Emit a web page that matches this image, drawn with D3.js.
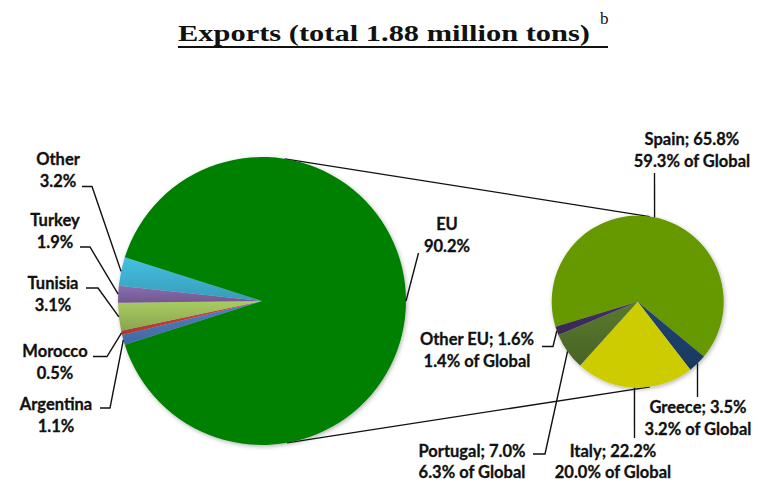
<!DOCTYPE html>
<html>
<head>
<meta charset="utf-8">
<script src="https://cdn.jsdelivr.net/npm/d3@7"></script>
<style>
  html, body { margin: 0; padding: 0; background: #fff; }
  svg { display: block; }
  .lbl { font-family: Lato, "Open Sans", sans-serif; font-weight: 700; fill: #111;
         stroke: #111; stroke-width: 0.3px; }
</style>
</head>
<body>
<svg id="chart" width="760" height="483"></svg>
<script>
// Export shares by origin (percent of global exports)
const mainLabels = ["Argentina", "Morocco", "Tunisia", "Turkey", "Other", "EU"];
const mainShares = [1.1, 0.5, 3.1, 1.9, 3.2, 90.2];
const mainColors = ["#4a76b8", "#c0403a", "#9bbb59", "#8064a2", "#3fb0d0", "#008000"];

// Breakdown of the EU share (percent of EU, percent of global)
const euLabels = ["Spain", "Greece", "Italy", "Portugal", "Other EU"];
const euShares = [65.8, 3.5, 22.2, 7.0, 1.6];
const euGlobal = [59.3, 3.2, 20.0, 6.3, 1.4];
const euColors = ["#669900", "#1c3f6a", "#cccc00", "#52702a", "#3f2d5e"];

const titleText = "Exports (total 1.88 million tons)";
const titleNote = "b";

const svg = d3.select("#chart");
const deg = Math.PI / 180;

// ---- defs: soft shadow + per-slice shading
const defs = svg.append("defs");
const shadow = defs.append("filter").attr("id", "pieShadow")
  .attr("x", "-10%").attr("y", "-10%").attr("width", "120%").attr("height", "120%");
shadow.append("feDropShadow").attr("dx", 1).attr("dy", 1.5)
  .attr("stdDeviation", 2.2).attr("flood-color", "#000").attr("flood-opacity", 0.3);

function shade(id, color, flat) {
  const g = defs.append("linearGradient").attr("id", id)
    .attr("x1", "0").attr("y1", "0").attr("x2", "0").attr("y2", "1");
  const c = d3.color(color);
  g.append("stop").attr("offset", "0%").attr("stop-color", flat ? color : c.brighter(0.25).formatHex());
  g.append("stop").attr("offset", "100%").attr("stop-color", flat ? color : c.darker(0.35).formatHex());
  return `url(#${id})`;
}

// ---- title
const title = svg.append("g");
title.append("text")
  .attr("x", 178).attr("y", 41)
  .attr("textLength", 412).attr("lengthAdjust", "spacingAndGlyphs")
  .style("font-family", "'Liberation Serif', 'DejaVu Serif', serif")
  .style("font-weight", "700").style("font-size", "24px").style("fill", "#111")
  .text(titleText);
title.append("text")
  .attr("x", 600).attr("y", 24)
  .style("font-family", "'Liberation Serif', serif")
  .style("font-weight", "400").style("font-size", "17px").style("fill", "#111")
  .text(titleNote);
title.append("line")
  .attr("x1", 178).attr("x2", 608).attr("y1", 47).attr("y2", 47)
  .attr("stroke", "#111").attr("stroke-width", 2);

// ---- pie geometry
const main = { cx: 262, cy: 301, r: 144 };
const sub  = { cx: 637.7, cy: 301.7, r: 86 };

const smallTotal = d3.sum(mainShares.slice(0, 5)) / d3.sum(mainShares) * 360;
const mainStart = (270 - smallTotal / 2) * deg;
const mainPie = d3.pie().sort(null).startAngle(mainStart).endAngle(mainStart + 2 * Math.PI);
const mainArcs = mainPie(mainShares);

const subStart = -107 * deg;
const subPie = d3.pie().sort(null).startAngle(subStart).endAngle(subStart + 2 * Math.PI);
const subArcs = subPie(euShares);

const polar = (c, a, r) => [c.cx + r * Math.sin(a), c.cy - r * Math.cos(a)];

// ---- connector lines between the two pies
const linkG = svg.append("g").attr("stroke", "#111").attr("stroke-width", 1.3).attr("fill", "none");
[[9.1, 8.0], [170.0, 171.8]].forEach(([a1, a2]) => {
  const p1 = polar(main, a1 * deg, main.r), p2 = polar(sub, a2 * deg, sub.r);
  linkG.append("line").attr("x1", p1[0]).attr("y1", p1[1]).attr("x2", p2[0]).attr("y2", p2[1]);
});

// ---- slices
const mainArc = d3.arc().innerRadius(0).outerRadius(main.r);
svg.append("g").attr("transform", `translate(${main.cx},${main.cy})`)
  .attr("filter", "url(#pieShadow)")
  .selectAll("path").data(mainArcs).join("path")
  .attr("d", mainArc)
  .attr("fill", (d, i) => shade("m" + i, mainColors[i], i === 5));

const subArc = d3.arc().innerRadius(0).outerRadius(sub.r);
svg.append("g").attr("transform", `translate(${sub.cx},${sub.cy})`)
  .attr("filter", "url(#pieShadow)")
  .selectAll("path").data(subArcs).join("path")
  .attr("d", subArc)
  .attr("fill", (d, i) => shade("s" + i, euColors[i], i === 0 || i === 2));

// ---- labels and leader lines
const fmt = d3.format(".1f");
const mainLayout = [
  { x: 56, y: 410, knee: [[100, 408], [110, 408]] },
  { x: 55, y: 357, knee: [[93, 356.5], [107, 356.5]] },
  { x: 53, y: 289, knee: [[86, 288], [98, 288]] },
  { x: 55, y: 226, knee: [[80, 247], [90, 247]] },
  { x: 58, y: 165, knee: [[82, 186.5], [92, 186.5]] },
  { x: 447, y: 230, knee: [[418.5, 253]] }
];
const subLayout = [
  { x: 692, y: 145, knee: [[654.5, 173]] },
  { x: 698, y: 413, knee: [[697.5, 397]] },
  { x: 613, y: 456.5, knee: [[634.5, 438]] },
  { x: 472, y: 456.5, knee: [[533, 454], [545, 454]] },
  { x: 477, y: 345, knee: [[542, 346.5], [553, 346.5]] }
];

const leaderG = svg.append("g").attr("stroke", "#111").attr("stroke-width", 1.4).attr("fill", "none");
const textG = svg.append("g");
const lh = 21.7;

function drawLabel(lines, lay, anchorPt) {
  const t = textG.append("text").attr("class", "lbl")
    .attr("text-anchor", "middle").style("font-size", "16.5px");
  lines.forEach((s, k) => t.append("tspan").attr("x", lay.x).attr("y", lay.y + k * lh).text(s));
  leaderG.append("path").attr("d", d3.line()([...lay.knee, anchorPt]));
}

mainArcs.forEach((d, i) => {
  const mid = (d.startAngle + d.endAngle) / 2;
  drawLabel([mainLabels[i], fmt(mainShares[i]) + "%"], mainLayout[i], polar(main, mid, main.r));
});
subArcs.forEach((d, i) => {
  const mid = (d.startAngle + d.endAngle) / 2;
  drawLabel([`${euLabels[i]}; ${fmt(euShares[i])}%`, `${fmt(euGlobal[i])}% of Global`],
    subLayout[i], polar(sub, mid, sub.r));
});
</script>
</body>
</html>
